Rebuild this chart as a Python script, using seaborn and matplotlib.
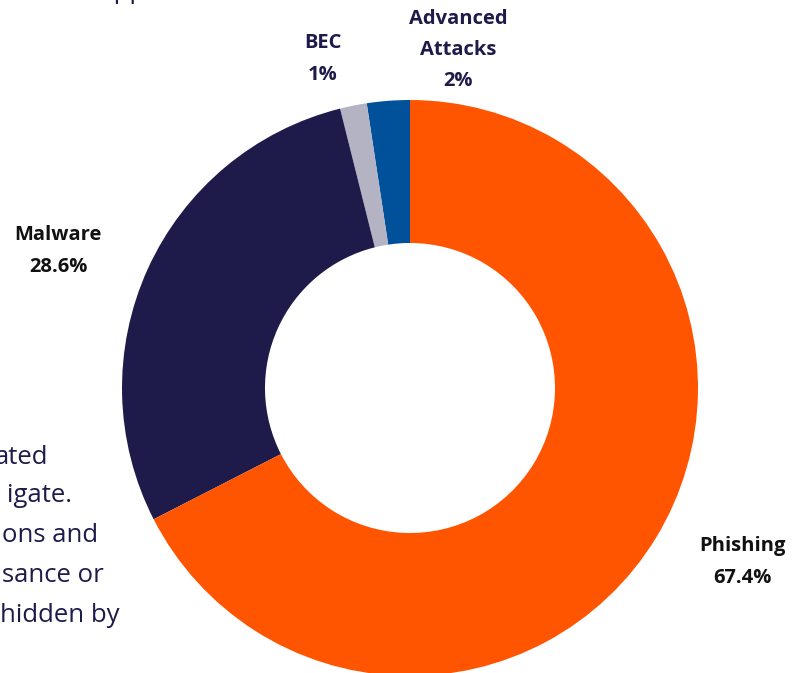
import matplotlib.pyplot as plt
import seaborn as sns

sns.set_style("white")
plt.rcParams['font.family'] = ['Open Sans', 'DejaVu Sans']

# slices, counter-clockwise from 12 o'clock
categories = ['Advanced\nAttacks', 'BEC', 'Malware', 'Phishing']
shares = [2.4, 1.5, 28.6, 67.4]
shown = ['2%', '1%', '28.6%', '67.4%']
colors = ['#00519A', '#B3B3C3', '#1E1B4B', '#FF5500']
label_colors = ['#1E1B4B', '#1E1B4B', '#111111', '#111111']
label_pos = [(458, 623), (323, 614), (58, 422), (742, 111)]

# body copy that is cut off at the left edge of the crop
body_lines = ['d web appe', 'ated', 'igate.', 'ons and', 'sance or', 'hidden by']
body_pos = [(160, 673 + 9), (48, 216), (72, 178), (98, 138), (104, 98), (119, 58)]

fig = plt.figure(figsize=(7.98, 6.73), dpi=100)
ax = fig.add_axes([0, 0, 1, 1])

ax.pie(shares, colors=colors, startangle=90, counterclock=True,
       center=(410, 285), radius=288,
       wedgeprops=dict(width=143, edgecolor='none'))

for name, val, col, (x, y) in zip(categories, shown, label_colors, label_pos):
    ax.text(x, y, f'{name}\n{val}', ha='center', va='center', color=col,
            fontsize=14.5, fontweight='bold', linespacing=1.75)

for line, (x, y) in zip(body_lines, body_pos):
    ax.text(x, y, line, ha='right', va='center', color='#1E1B4B', fontsize=18.5)

ax.set_xlim(0, 798)
ax.set_ylim(0, 673)
ax.set_aspect('equal')
ax.axis('off')

fig.savefig('out.png', dpi=100)
